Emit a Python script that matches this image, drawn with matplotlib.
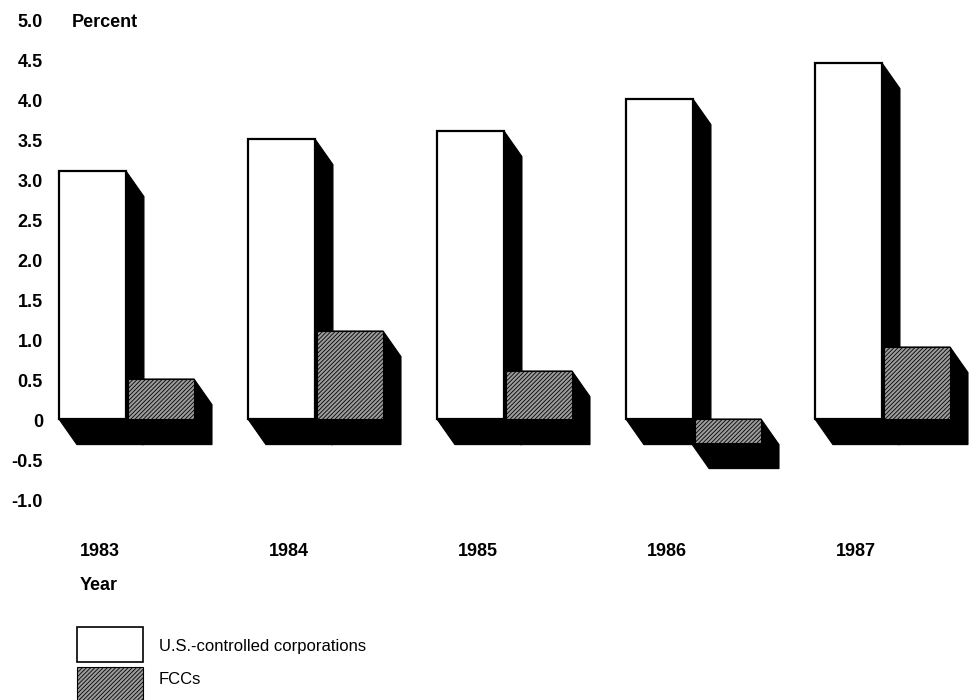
import numpy as np
import matplotlib
matplotlib.use("Agg")
import matplotlib.pyplot as plt
from matplotlib.patches import Polygon, Rectangle

# data
years = ["1983", "1984", "1985", "1986", "1987"]
us_controlled = [3.1, 3.5, 3.6, 4.0, 4.45]
fccs = [0.5, 1.1, 0.6, -0.3, 0.9]
y_ticks = [5.0, 4.5, 4.0, 3.5, 3.0, 2.5, 2.0, 1.5, 1.0, 0.5, 0, -0.5, -1.0]
y_tick_labels = ["5.0", "4.5", "4.0", "3.5", "3.0", "2.5", "2.0", "1.5", "1.0", "0.5", "0", "-0.5", "-1.0"]

plt.rcParams["font.family"] = ["Liberation Sans", "DejaVu Sans"]
plt.rcParams["hatch.linewidth"] = 0.6

W_WHITE = 0.355
W_GREY = 0.35
GAP = 0.01
DX = 0.095   # oblique depth, x (group units)
DY = 0.32    # oblique depth, y (percent)
GREY = "#9c9c9c"
FS = 13


def shadow(ax, x0, w, v, z, pad=0.0):
    # black side + bottom faces of an oblique 3D bar (depth goes right/down)
    lo, hi = min(0, v), max(0, v)
    x1 = x0 + w
    pts = [(x0, hi), (x0, lo), (x0 - pad, lo), (x0 - pad + DX, lo - DY),
           (x1 + DX, lo - DY), (x1 + DX, hi - DY), (x1, hi)]
    ax.add_patch(Polygon(pts, closed=True, facecolor="black", edgecolor="black",
                         linewidth=0.8, zorder=z))


fig = plt.figure(figsize=(9.71, 7.0), dpi=100)
ax = fig.add_axes([0, 0, 1, 1])
ax.set_xlim(-126 / 189, (971 - 126) / 189)
ax.set_ylim((419 - 700) / 80, 419 / 80)
ax.axis("off")

x = np.arange(len(years))
for i in x:
    shadow(ax, i - W_WHITE, W_WHITE, us_controlled[i], 1)
ax.bar(x - W_WHITE, us_controlled, width=W_WHITE, align="edge", bottom=0,
       facecolor="white", edgecolor="black", linewidth=1.6, zorder=2)
for i in x:
    shadow(ax, i + GAP, W_GREY, fccs[i], 3, pad=2 * GAP)
ax.bar(x + GAP, fccs, width=W_GREY, align="edge", facecolor=GREY,
       edgecolor="black", hatch="////////", linewidth=0.8, zorder=4)

# y labels
for t, lab in zip(y_ticks, y_tick_labels):
    ax.text((43 - 126) / 189, t - 0.04, lab, ha="right", va="center",
            fontsize=FS, fontweight="bold")
ax.text((72 - 126) / 189, 5.0 - 0.04, "Percent", ha="left", va="center",
        fontsize=FS, fontweight="bold")

# year labels
for i, yr in zip(x, years):
    ax.text(i - 0.243, (419 - 552) / 80, yr, ha="left", va="center",
            fontsize=FS, fontweight="bold")
ax.text(-0.243, (419 - 586) / 80, "Year", ha="left", va="center",
        fontsize=FS, fontweight="bold")

# legend
fig.patches.append(Rectangle((77 / 971, (700 - 662) / 700), 66 / 971, 35 / 700,
                             transform=fig.transFigure, facecolor="white",
                             edgecolor="black", linewidth=1.2))
fig.patches.append(Rectangle((77 / 971, (700 - 707) / 700), 66 / 971, 40 / 700,
                             transform=fig.transFigure, facecolor=GREY,
                             edgecolor="black", hatch="////////", linewidth=0.8))
fig.text(159 / 971, (700 - 647) / 700, "U.S.-controlled corporations",
         ha="left", va="center", fontsize=12)
fig.text(159 / 971, (700 - 679) / 700, "FCCs", ha="left", va="center",
         fontsize=12)

fig.savefig("out.png", dpi=100)
